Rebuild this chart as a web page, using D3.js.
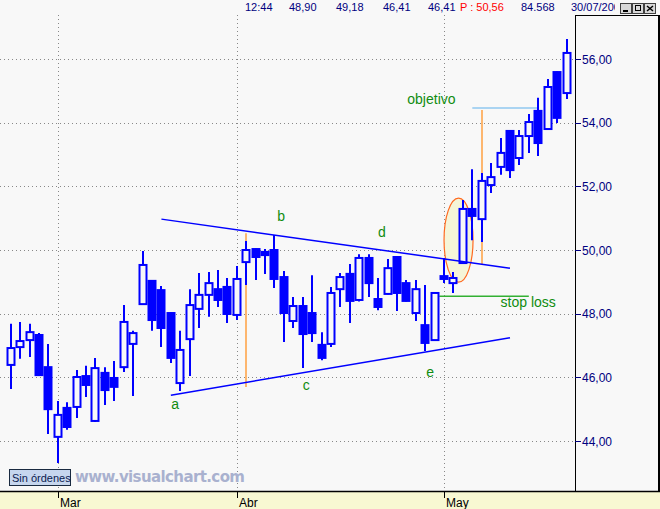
<!DOCTYPE html>
<html><head><meta charset="utf-8">
<script src="https://cdn.jsdelivr.net/npm/d3@7"></script>
<style>body{margin:0;background:#f8f8f8;overflow:hidden}svg{display:block;font-family:"Liberation Sans",Arial,sans-serif}</style>
</head><body><script>
// ---- data ----
const dates = ["23/02","24/02","25/02","26/02","27/02",
"01/03","02/03","03/03","04/03","05/03","08/03","09/03","10/03","11/03","12/03","15/03","16/03","17/03","18/03","19/03","22/03","23/03","24/03","25/03",
"01/04","02/04","05/04","06/04","07/04","08/04","09/04","12/04","13/04","14/04","15/04","16/04","19/04","20/04","21/04","22/04","23/04","26/04","27/04","28/04","29/04","30/04",
"03/05","04/05","05/05","06/05","07/05","10/05","11/05","12/05","13/05","14/05","17/05","18/05","19/05","20/05"];
const opens = [46.39,46.95,47.17,47.33,46.32,44.13,45.04,45.07,46.04,44.63,46.14,45.98,46.32,47.05,48.30,49.03,48.74,48.02,45.82,47.20,48.15,48.59,48.77,48.84,47.96,49.62,50.03,49.94,50.00,49.15,47.77,48.24,48.02,47.02,47.05,48.77,49.25,48.43,49.75,48.46,48.62,49.78,48.96,48.02,47.64,47.17,49.18,48.96,49.59,51.29,50.97,52.04,52.61,53.74,52.89,53.58,54.37,53.80,55.59,54.93];
const highs = [47.68,47.74,47.68,47.39,47.05,45.26,45.22,46.23,46.36,46.61,46.32,46.51,48.27,47.46,49.97,49.05,48.87,48.04,47.46,48.77,49.28,49.31,49.37,49.12,49.50,50.28,50.05,50.03,50.47,49.34,48.52,48.52,49.21,47.42,48.84,49.28,49.56,49.87,49.87,49.12,49.72,49.80,49.06,49.06,48.90,48.67,49.75,49.31,51.57,52.54,52.42,52.73,53.52,53.76,53.77,54.27,54.78,55.37,55.61,56.63];
const lows = [45.63,46.58,46.64,46.05,44.22,43.31,44.35,44.72,45.38,44.60,45.13,45.26,46.17,45.41,48.28,47.46,46.95,46.45,45.57,46.04,47.55,47.90,48.21,47.71,47.80,48.90,49.06,49.25,48.81,47.11,47.55,46.29,47.11,46.54,46.95,48.21,47.71,48.38,48.52,48.11,48.60,48.08,48.38,47.77,46.83,47.15,48.96,48.65,49.57,50.31,50.25,51.79,52.36,52.26,52.67,53.05,52.95,53.78,53.99,54.74];
const closes = [46.92,47.14,47.42,46.07,45.00,44.82,44.44,46.01,45.76,46.29,45.60,45.70,47.74,47.39,49.53,47.80,47.55,46.61,46.86,48.27,48.59,48.96,48.43,47.99,49.09,50.00,49.78,49.84,49.09,48.02,48.24,47.36,47.39,46.61,48.65,49.15,48.40,49.75,48.96,48.21,49.43,48.65,48.40,48.77,47.08,48.65,49.09,49.12,51.29,51.07,52.17,52.29,53.05,52.51,53.58,54.02,53.36,55.12,54.15,56.19];
const priceTicks = [44,46,48,50,52,54,56];
const monthNames = {"03":"Mar","04":"Abr","05":"May"};
const headerTexts = ["12:44","48,90","49,18","46,41","46,41"];
const headerPrice = "P : 50,56";
const headerVolume = "84.568";
const headerDate = "30/07/2004";
// annotations (index, price)
const upperTrend = [[16,50.97],[53,49.43]];
const lowerTrend = [[17,45.44],[53,47.24]];
const objectiveLine = [[49,54.46],[56,54.46]];
const stopLine = [[45.5,48.55],[55,48.55]];
const measureLines = [[[25,50.53],[25,45.70]],[[50,54.40],[50,49.56]]];
const ellipseZone = {i:47.54, p:50.31, di:1.54, dp:1.32};
const pointLabels = [{t:"a",i:17.05,p:45.0},{t:"b",i:28.3,p:50.9},{t:"c",i:31.0,p:45.6},{t:"d",i:39.0,p:50.4},{t:"e",i:44.1,p:46.0},
  {t:"objetivo",i:42.1,p:54.58},{t:"stop loss",i:52.0,p:48.2}];

// ---- drawing ----
const W=660,H=509, plotR=575, plotT=15, plotB=491;
const svg=d3.select("body").append("svg").attr("width",W).attr("height",H);
svg.append("rect").attr("width",W).attr("height",H).attr("fill","#f8f8f8");
const x=d3.scaleLinear().domain([0,dates.length-1]).range([10.7,566.5]);
const y=d3.scaleLinear().domain([44,56]).range([441,59]);
const fmt=v=>d3.format(".2f")(v).replace(".",",");

// gridlines
svg.append("g").selectAll("line").data(priceTicks).join("line")
  .attr("x1",0).attr("x2",plotR).attr("y1",d=>Math.round(y(d))+0.5).attr("y2",d=>Math.round(y(d))+0.5)
  .attr("stroke","#888").attr("stroke-dasharray","1,3");
const monthIdx=dates.map((d,i)=>i).filter(i=>i>0&&dates[i].slice(3)!==dates[i-1].slice(3));
svg.append("g").selectAll("line").data(monthIdx).join("line")
  .attr("x1",i=>Math.round(x(i))+0.5).attr("x2",i=>Math.round(x(i))+0.5).attr("y1",plotT).attr("y2",plotB)
  .attr("stroke","#888").attr("stroke-dasharray","1,3");

// ellipse zone
svg.append("ellipse").attr("cx",x(ellipseZone.i)).attr("cy",y(ellipseZone.p))
  .attr("rx",x(ellipseZone.i+ellipseZone.di)-x(ellipseZone.i)).attr("ry",y(ellipseZone.p-ellipseZone.dp)-y(ellipseZone.p))
  .attr("fill","#f5f5d8").attr("stroke","#ff6a20").attr("stroke-width",1.2);

// measure lines (orange)
svg.append("g").selectAll("line").data(measureLines).join("line")
  .attr("x1",d=>Math.round(x(d[0][0]))).attr("x2",d=>Math.round(x(d[1][0])))
  .attr("y1",d=>y(d[0][1])).attr("y2",d=>y(d[1][1])).attr("stroke","#ffa040").attr("stroke-width",1.5);

const line=d3.line().x(d=>x(d[0])).y(d=>y(d[1]));
svg.append("path").attr("d",line(objectiveLine)).attr("stroke","#90c8f0").attr("stroke-width",1.5).attr("fill","none");
svg.append("path").attr("d",line(stopLine)).attr("stroke","#33b033").attr("stroke-width",1.5).attr("fill","none");

// candles
const idx=d3.range(dates.length);
const g=svg.append("g");
g.selectAll("line.w").data(idx).join("line").attr("class","w")
  .attr("x1",i=>Math.round(x(i))).attr("x2",i=>Math.round(x(i)))
  .attr("y1",i=>y(highs[i])).attr("y2",i=>y(lows[i])).attr("stroke","#0000ff").attr("stroke-width",2);
g.selectAll("rect").data(idx).join("rect")
  .attr("x",i=>Math.round(x(i))-3.5).attr("width",7)
  .attr("y",i=>y(Math.max(opens[i],closes[i])))
  .attr("height",i=>Math.max(1,y(Math.min(opens[i],closes[i]))-y(Math.max(opens[i],closes[i]))))
  .attr("fill",i=>closes[i]>=opens[i]?"#f8f8f8":"#0000ff").attr("stroke","#0000ff").attr("stroke-width",2);

// trend lines
[upperTrend,lowerTrend].forEach(t=>svg.append("path").attr("d",line(t)).attr("stroke","#0000ff").attr("stroke-width",1.5).attr("fill","none"));

// labels
svg.append("g").selectAll("text").data(pointLabels).join("text")
  .attr("x",d=>x(d.i)).attr("y",d=>y(d.p)).text(d=>d.t)
  .attr("font-size",14).attr("fill","#108c10");

// right axis
svg.append("line").attr("x1",plotR+0.5).attr("x2",plotR+0.5).attr("y1",plotT).attr("y2",plotB).attr("stroke","#000");
svg.append("line").attr("x1",plotR).attr("x2",W).attr("y1",plotT+0.5).attr("y2",plotT+0.5).attr("stroke","#000");
svg.append("rect").attr("x",658).attr("y",plotT).attr("width",2).attr("height",plotB-plotT).attr("fill","#000");
const ya=svg.append("g");
ya.selectAll("line").data(priceTicks).join("line").attr("x1",plotR).attr("x2",plotR+6)
  .attr("y1",d=>Math.round(y(d))+0.5).attr("y2",d=>Math.round(y(d))+0.5).attr("stroke","#000080");
ya.selectAll("text").data(priceTicks).join("text").attr("x",plotR+7).attr("y",d=>y(d)+4.5)
  .text(fmt).attr("font-size",12).attr("fill","#000080");

// bottom strip
svg.append("rect").attr("x",0).attr("y",plotB+1).attr("width",W).attr("height",H-plotB-1).attr("fill","#f8f8d2");
svg.append("line").attr("x1",0).attr("x2",W).attr("y1",plotB+0.5).attr("y2",plotB+0.5).attr("stroke","#000").attr("stroke-width",1.5);
const xa=svg.append("g");
xa.selectAll("line").data(monthIdx).join("line").attr("x1",i=>Math.round(x(i))+0.5).attr("x2",i=>Math.round(x(i))+0.5)
  .attr("y1",plotB).attr("y2",plotB+7).attr("stroke","#000");
xa.selectAll("text").data(monthIdx).join("text").attr("x",i=>Math.round(x(i))+2).attr("y",507)
  .text(i=>monthNames[dates[i].slice(3)]).attr("font-size",12).attr("fill","#000");

// watermark & orders box
svg.append("text").attr("x",75).attr("y",482).text("www.visualchart.com").attr("font-weight","bold")
  .attr("font-family","'DejaVu Sans',Verdana,sans-serif").attr("font-size",15).attr("textLength",170).attr("fill","#a9b1cf");
svg.append("rect").attr("x",9.5).attr("y",469.5).attr("width",61).attr("height",16).attr("fill","#c6d6ee").attr("stroke","#1a2a40");
svg.append("text").attr("x",12).attr("y",482).text("Sin órdenes").attr("font-size",11).attr("fill","#0a1a50");

// header
const hx=[245,289,336,383,428];
svg.append("g").selectAll("text").data(headerTexts).join("text").attr("x",(d,i)=>hx[i]).attr("y",11)
  .text(d=>d).attr("font-size",11).attr("fill","#000080");
svg.append("text").attr("x",460).attr("y",11).text(headerPrice).attr("font-size",11).attr("fill","#ff0000");
svg.append("text").attr("x",521).attr("y",11).text(headerVolume).attr("font-size",11).attr("fill","#000080");
svg.append("clipPath").attr("id","hc").append("rect").attr("x",560).attr("y",0).attr("width",55).attr("height",15);
svg.append("text").attr("x",571).attr("y",11).text(headerDate).attr("font-size",11).attr("fill","#000080").attr("clip-path","url(#hc)");
const btn=svg.append("g");
[620,632,644].forEach((bx,k)=>{
  btn.append("rect").attr("x",bx+0.5).attr("y",3.5).attr("width",11).attr("height",10).attr("fill","#d8d8d8").attr("stroke","#404040");
  if(k===0) btn.append("line").attr("x1",bx+3).attr("x2",bx+8).attr("y1",11).attr("y2",11).attr("stroke","#000").attr("stroke-width",2);
  if(k===1) btn.append("rect").attr("x",bx+3.5).attr("y",5.5).attr("width",5).attr("height",5).attr("fill","none").attr("stroke","#000");
  if(k===2){btn.append("path").attr("d",`M${bx+3},6L${bx+9},11M${bx+9},6L${bx+3},11`).attr("stroke","#000").attr("stroke-width",1.5);}
});
</script></body></html>
